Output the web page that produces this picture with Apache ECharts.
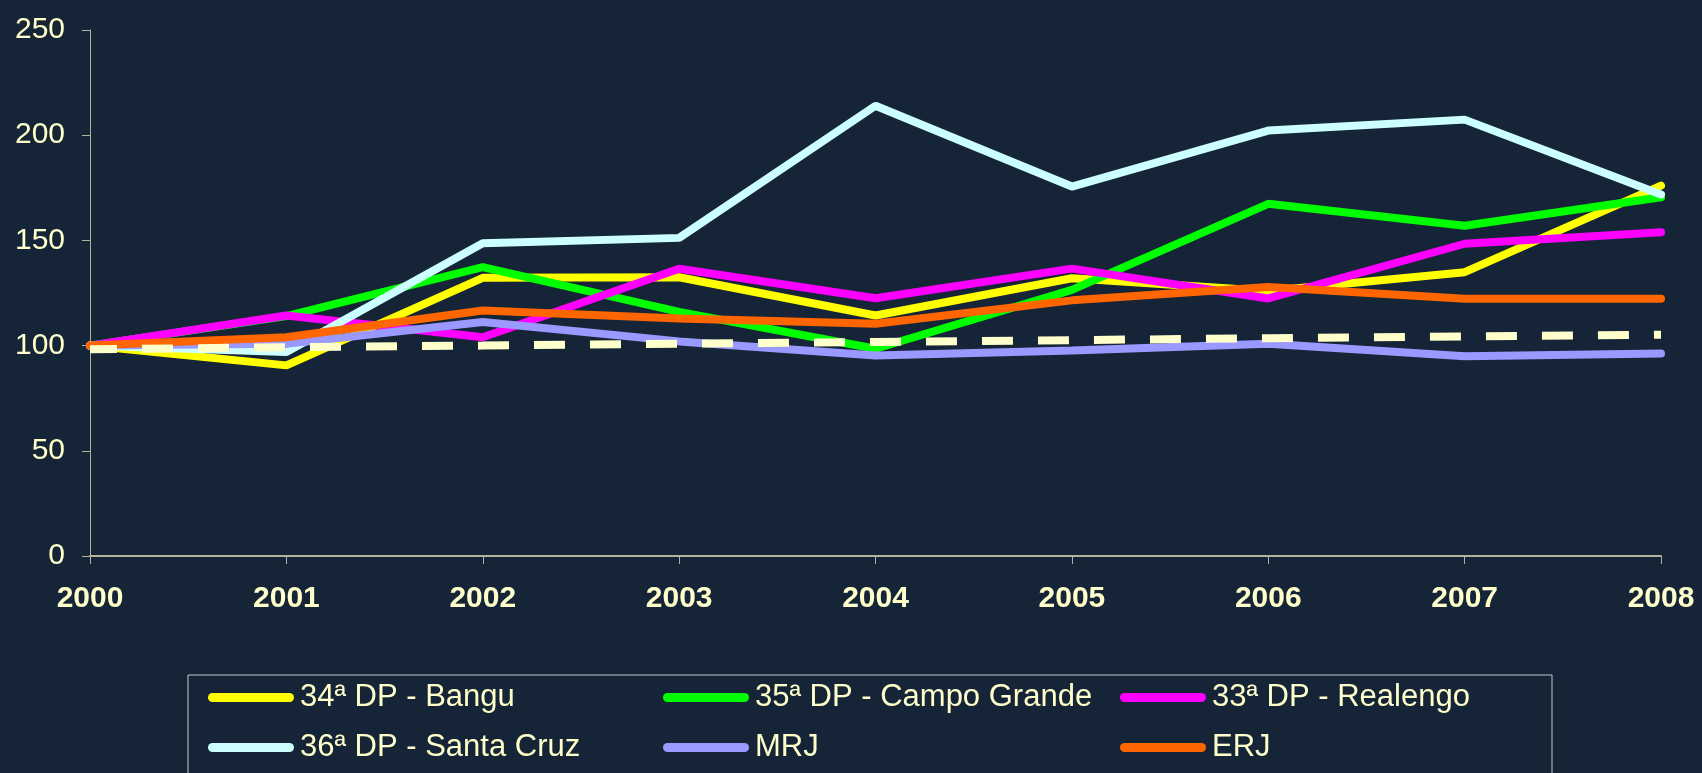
<!DOCTYPE html>
<html>
<head>
<meta charset="utf-8">
<title>Índice 2000-2008</title>
<script src="https://cdn.jsdelivr.net/npm/echarts@6/dist/echarts.min.js"></script>
<style>
	html, body { margin: 0; padding: 0; background: #152436; }
	#main { width: 1702px; height: 773px; }
</style>
</head>
<body>
<div id="main"></div>
<script>
// dados
var anos = ['2000', '2001', '2002', '2003', '2004', '2005', '2006', '2007', '2008'];
var yTicks = [0, 50, 100, 150, 200, 250];

var bangu = [100, 90.6, 132.2, 132.5, 114.3, 132, 126, 134.9, 176];
var campoGrande = [100, 114, 137.3, 116, 98.5, 126.5, 167.4, 157, 170.5];
var realengo = [100, 114.3, 104, 136.5, 122.5, 136.6, 122.4, 148.4, 153.9];
var santaCruz = [100, 96.9, 148.7, 151.2, 214, 175.6, 202.2, 207.4, 171.8];
var mrj = [100, 100.9, 111.2, 102, 95.3, 97.7, 100.9, 94.9, 96.2];
var erj = [100, 104, 116.7, 112.9, 110.4, 121.5, 127.8, 122.3, 122.3];
var tendencia = [98.3, 99.2, 100.0, 100.9, 101.7, 102.6, 103.5, 104.3, 105.2];

var nomes = ['34ª DP - Bangu', '35ª DP - Campo Grande', '33ª DP - Realengo',
	'36ª DP - Santa Cruz', 'MRJ', 'ERJ'];
var cores = ['#ffff00', '#00ff00', '#ff00ff', '#ccffff', '#9999ff', '#ff6600'];
var valores = [bangu, campoGrande, realengo, santaCruz, mrj, erj];

var texto = '#ffffcc';
var eixo = '#b4b49c';
var fonte = '"Liberation Sans", Arial, sans-serif';

var series = [];
for (var i = 0; i < nomes.length; i++) {
	series.push({
		name: nomes[i],
		type: 'line',
		data: valores[i],
		symbol: 'none',
		color: cores[i],
		lineStyle: { color: cores[i], width: 8, cap: 'round' },
		z: 2 + i
	});
}
// linha tracejada
series.push({
	name: 'tendencia',
	type: 'line',
	data: tendencia,
	symbol: 'none',
	lineStyle: { color: '#ffffcc', width: 8, type: [31, 25], dashOffset: 4, cap: 'butt' },
	z: 10
});

// legenda em 3 colunas
var capsula = 'path://M4.5,0 H81.5 A4.5,4.5 0 0 1 81.5,9 H4.5 A4.5,4.5 0 0 1 4.5,0 Z';
function coluna(left, itens) {
	return {
		orient: 'vertical',
		left: left,
		top: 682,
		padding: 0,
		itemGap: 19,
		itemWidth: 86,
		itemHeight: 9,
		icon: capsula,
		data: itens,
		textStyle: { color: texto, fontSize: 31, fontFamily: fonte, lineHeight: 30, padding: [0, 0, 0, 1] }
	};
}

var option = {
	backgroundColor: '#152436',
	animation: false,
	grid: { left: 90, right: 41, top: 30, bottom: 217 },
	legend: [
		coluna(208, [nomes[0], nomes[3]]),
		coluna(663, [nomes[1], nomes[4]]),
		coluna(1120, [nomes[2], nomes[5]])
	],
	graphic: [{
		type: 'rect',
		shape: { x: 188, y: 675, width: 1364, height: 130 },
		style: { fill: 'none', stroke: '#c8c8c8', lineWidth: 1 },
		silent: true
	}],
	xAxis: {
		type: 'category',
		data: anos,
		boundaryGap: false,
		axisLine: { lineStyle: { color: eixo, width: 2 } },
		axisTick: { show: true, length: 8, alignWithLabel: true, lineStyle: { color: eixo } },
		axisLabel: { color: texto, fontSize: 30, fontWeight: 'bold', fontFamily: fonte, margin: 28 },
		splitLine: { show: false }
	},
	yAxis: {
		type: 'value',
		min: yTicks[0],
		max: yTicks[yTicks.length - 1],
		interval: 50,
		axisLine: { show: true, lineStyle: { color: eixo, width: 1 } },
		axisTick: { show: true, length: 8, lineStyle: { color: eixo } },
		axisLabel: { color: texto, fontSize: 30, fontFamily: fonte, margin: 25 },
		splitLine: { show: false }
	},
	series: series
};

var grafico = echarts.init(document.getElementById('main'));
grafico.setOption(option);
</script>
</body>
</html>
